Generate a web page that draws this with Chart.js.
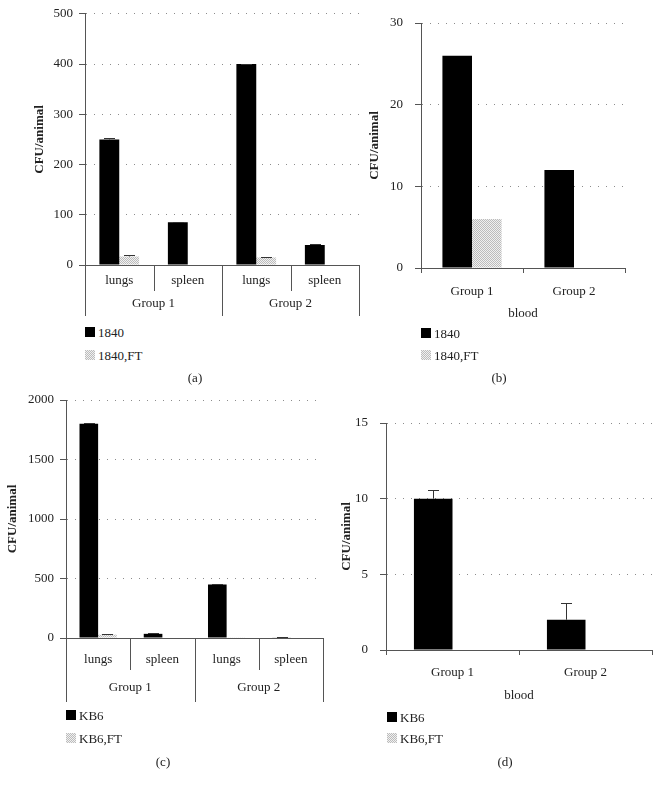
<!DOCTYPE html>
<html>
<head>
<meta charset="utf-8">
<script src="https://cdn.jsdelivr.net/npm/chart.js@4.4.0/dist/chart.umd.min.js"></script>
<style>
  body { margin: 0; background: #fff; }
  #fig { position: relative; width: 660px; height: 789px; font-family: "Liberation Serif", serif; color: #222; }
  #fig canvas { position: absolute; }
  .leg { position: absolute; font-size: 13px; line-height: 15px; white-space: nowrap; display: flex; align-items: center; gap: 3px; }
  .leg i { display: inline-block; width: 10px; height: 10px; }
  .cap { position: absolute; font-size: 13px; transform: translate(-50%, -50%); }
</style>
</head>
<body>
<div id="fig">
  <canvas id="chartA" width="365" height="320" style="left:0;top:0"></canvas>
  <canvas id="chartB" width="300" height="330" style="left:360px;top:0"></canvas>
  <canvas id="chartC" width="360" height="330" style="left:0;top:385px"></canvas>
  <canvas id="chartD" width="325" height="330" style="left:335px;top:385px"></canvas>
</div>
<script>
(function () {
  // categories
  const organs = ['lungs', 'spleen', 'lungs', 'spleen'];
  const groups = ['Group 1', 'Group 2'];
  const bloodGroups = ['Group 1', 'Group 2'];

  // (a) strain 1840, organs
  const seriesA = ['1840', '1840,FT'];
  const a1840 = [250, 85, 400, 40];
  const a1840Err = [2, 1, 1, 1];
  const a1840FT = [17, 0, 15, 0];
  const a1840FTErr = [2, 0, 1, 0];
  const aTicks = [0, 100, 200, 300, 400, 500];

  // (b) strain 1840, blood
  const b1840 = [26, 12];
  const b1840FT = [6, 0];
  const bTicks = [0, 10, 20, 30];

  // (c) strain KB6, organs
  const seriesC = ['KB6', 'KB6,FT'];
  const cKB6 = [1800, 35, 450, 5];
  const cKB6Err = [5, 5, 3, 2];
  const cKB6FT = [28, 0, 3, 0];
  const cKB6FTErr = [6, 0, 0, 0];
  const cTicks = [0, 500, 1000, 1500, 2000];

  // (d) strain KB6, blood
  const dKB6 = [10, 2];
  const dKB6Err = [0.55, 1.1];
  const dKB6FT = [0, 0];
  const dTicks = [0, 5, 10, 15];

  const ink = '#222';
  const axisColor = '#555';
  Chart.defaults.font.family = '"Liberation Serif", serif';
  Chart.defaults.font.size = 13;

  // stippled grey fill for the FT series
  const tile = document.createElement('canvas');
  tile.width = 2; tile.height = 2;
  const tg = tile.getContext('2d');
  tg.fillStyle = '#f0f0f0'; tg.fillRect(0, 0, 2, 2);
  tg.fillStyle = '#bcbcbc'; tg.fillRect(0, 0, 1, 1); tg.fillRect(1, 1, 1, 1);
  const ftFill = tile.getContext('2d').createPattern(tile, 'repeat');
  const tileURL = tile.toDataURL();

  const errorBars = {
    id: 'errorBars',
    afterDatasetsDraw(chart) {
      const ctx = chart.ctx, y = chart.scales.y;
      chart.data.datasets.forEach((ds, i) => {
        if (!ds.errors) return;
        chart.getDatasetMeta(i).data.forEach((bar, j) => {
          const e = ds.errors[j];
          if (!e) return;
          const top = Math.round(y.getPixelForValue(ds.data[j] + e)) + 0.5;
          const cx = Math.round(bar.x) + 0.5;
          ctx.save();
          ctx.strokeStyle = '#333';
          ctx.lineWidth = 1;
          ctx.beginPath();
          ctx.moveTo(cx, bar.y); ctx.lineTo(cx, top);
          ctx.moveTo(cx - 5.5, top); ctx.lineTo(cx + 5.5, top);
          ctx.stroke();
          ctx.restore();
        });
      });
    }
  };

  // two-level category axis: organ dividers + group labels
  const groupAxis = {
    id: 'groupAxis',
    afterDraw(chart, args, o) {
      if (!o || !o.labels) return;
      const x = chart.scales.x, ctx = chart.ctx, base = x.top;
      const n = chart.data.labels.length, per = n / o.labels.length;
      ctx.save();
      ctx.strokeStyle = axisColor;
      ctx.lineWidth = 1;
      ctx.beginPath();
      for (let i = 0; i <= n; i++) {
        const px = Math.round(x.getPixelForValue(i - 0.5)) + 0.5;
        ctx.moveTo(px, base);
        ctx.lineTo(px, base + (i % per === 0 ? o.long : o.short));
      }
      ctx.stroke();
      ctx.fillStyle = ink;
      ctx.font = '13px "Liberation Serif"';
      ctx.textAlign = 'center';
      ctx.textBaseline = 'middle';
      o.labels.forEach((t, g) => {
        ctx.fillText(t, x.getPixelForValue(g * per + (per - 1) / 2), base + o.labelY);
      });
      ctx.restore();
    }
  };

  function makeChart(id, p) {
    return new Chart(document.getElementById(id), {
      type: 'bar',
      data: {
        labels: p.labels,
        datasets: p.series.map((s, i) => ({
          label: s.label,
          data: s.data,
          errors: s.errors,
          backgroundColor: i === 0 ? '#000' : ftFill,
          borderWidth: 0,
          categoryPercentage: 0.58,
          barPercentage: 1,
        })),
      },
      options: {
        responsive: false,
        animation: false,
        layout: { padding: p.pad },
        plugins: {
          legend: { display: false },
          tooltip: { enabled: false },
          groupAxis: p.groupAxis || {},
        },
        scales: {
          x: {
            grid: p.xMarks
              ? { drawOnChartArea: false, offset: true, tickLength: 5, color: axisColor, tickColor: axisColor }
              : { display: false, drawTicks: false },
            border: { color: axisColor },
            ticks: { color: ink, padding: p.xPad, maxRotation: 0, autoSkip: false },
            title: { display: !!p.xTitle, text: p.xTitle || '', color: ink, padding: { top: 4, bottom: 4 } },
            afterFit: (s) => { s.height = p.xHeight; },
          },
          y: {
            min: p.ticks[0],
            max: p.ticks[p.ticks.length - 1],
            afterBuildTicks: (s) => { s.ticks = p.ticks.map((v) => ({ value: v })); },
            grid: { color: '#8c8c8c', tickColor: axisColor, tickLength: 6, tickBorderDash: [] },
            border: { color: axisColor, dash: [1, 7] },
            ticks: { color: ink, padding: p.yPad, callback: (v) => String(v) },
            title: { display: true, text: 'CFU/animal', color: ink, font: { weight: 'bold' }, padding: { top: 4, bottom: 4 } },
            afterFit: (s) => { s.width = p.yWidth; },
          },
        },
      },
      plugins: [errorBars, groupAxis],
    });
  }

  makeChart('chartA', {
    labels: organs,
    series: [
      { label: seriesA[0], data: a1840, errors: a1840Err },
      { label: seriesA[1], data: a1840FT, errors: a1840FTErr },
    ],
    ticks: aTicks,
    pad: { left: 28, right: 6, top: 13, bottom: 25 },
    yWidth: 57, yPad: 6,
    xHeight: 30, xPad: 8,
    groupAxis: { labels: groups, short: 26, long: 51, labelY: 39 },
  });

  makeChart('chartB', {
    labels: bloodGroups,
    series: [
      { label: seriesA[0], data: b1840 },
      { label: seriesA[1], data: b1840FT },
    ],
    ticks: bTicks,
    pad: { left: 3, right: 35, top: 23, bottom: 5 },
    yWidth: 58, yPad: 12,
    xHeight: 57, xPad: 11, xMarks: true, xTitle: 'blood',
  });

  makeChart('chartC', {
    labels: organs,
    series: [
      { label: seriesC[0], data: cKB6, errors: cKB6Err },
      { label: seriesC[1], data: cKB6FT, errors: cKB6FTErr },
    ],
    ticks: cTicks,
    pad: { left: 1, right: 37, top: 15, bottom: 47 },
    yWidth: 65, yPad: 6,
    xHeight: 30, xPad: 14,
    groupAxis: { labels: groups, short: 32, long: 64, labelY: 50 },
  });

  makeChart('chartD', {
    labels: bloodGroups,
    series: [
      { label: seriesC[0], data: dKB6, errors: dKB6Err },
      { label: seriesC[1], data: dKB6FT },
    ],
    ticks: dTicks,
    pad: { left: 0, right: 8, top: 38, bottom: 8 },
    yWidth: 51, yPad: 12,
    xHeight: 57, xPad: 10, xMarks: true, xTitle: 'blood',
  });

  // legends and panel captions
  const fig = document.getElementById('fig');
  function addLegend(x, ys, names) {
    names.forEach((t, i) => {
      const d = document.createElement('div');
      d.className = 'leg';
      d.style.left = x + 'px';
      d.style.top = (ys[i] - 7.5) + 'px';
      const sw = document.createElement('i');
      sw.style.background = i === 0 ? '#000' : 'url(' + tileURL + ')';
      d.append(sw, t);
      fig.append(d);
    });
  }
  function addCaption(t, x, y) {
    const d = document.createElement('div');
    d.className = 'cap';
    d.style.left = x + 'px';
    d.style.top = y + 'px';
    d.textContent = t;
    fig.append(d);
  }
  addLegend(85, [332, 355], seriesA);
  addLegend(421, [333, 355], seriesA);
  addLegend(66, [715, 738], seriesC);
  addLegend(387, [717, 738], seriesC);
  addCaption('(a)', 195, 378);
  addCaption('(b)', 499, 378);
  addCaption('(c)', 163, 762);
  addCaption('(d)', 505, 762);
})();
</script>
</body>
</html>
